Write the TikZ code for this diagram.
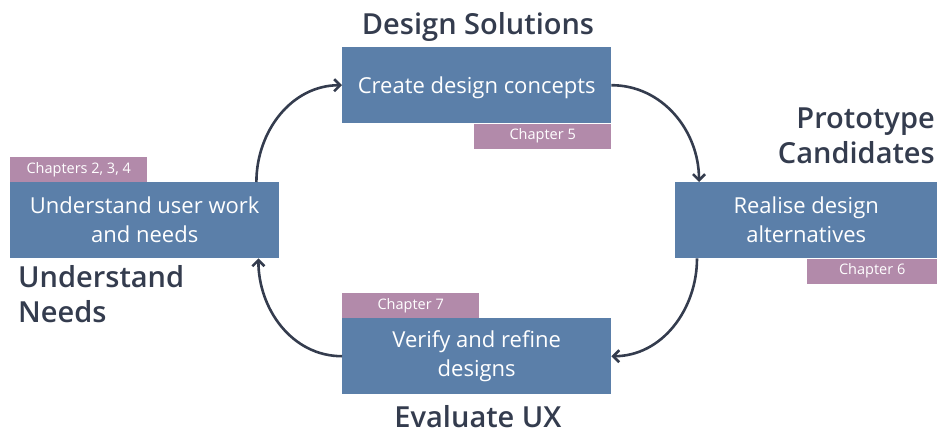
\documentclass[tikz,border=0pt]{standalone}
\usepackage{fontspec}
\setmainfont{Open Sans}[BoldFont={Open Sans Semibold}]
\usetikzlibrary{arrows.meta,positioning}
\definecolor{boxblue}{HTML}{5B7FA9}
\definecolor{tagpink}{HTML}{B28AAA}
\definecolor{inkdark}{HTML}{343C4E}

\begin{document}
\begin{tikzpicture}[x=1pt,y=-1pt,
		stage/.style={fill=boxblue,text=white,minimum width=269pt,minimum height=76pt,
			inner sep=0pt,align=center,font=\fontsize{22}{29}\selectfont},
		chaptertag/.style={fill=tagpink,text=white,minimum width=137pt,minimum height=25pt,
			inner sep=0pt,font=\fontsize{14.5}{16}\selectfont},
		phase/.style={text=inkdark,inner sep=0pt,font=\fontsize{29}{35}\selectfont\bfseries},
		flow/.style={draw=inkdark,line width=2.6pt,-{Straight Barb[length=6pt,width=12pt]}}]
		\useasboundingbox (0,0) rectangle (937,433);
		% stages of the cycle
		\node[stage,anchor=north west,text depth=1pt] (create) at (342,47) {Create design concepts};
		\node[stage,anchor=north west,minimum width=262pt] (realise) at (675,182) {Realise design\\alternatives};
		\node[stage,anchor=north west] (verify) at (342,318) {Verify and refine\\designs};
		\node[stage,anchor=north west] (understand) at (10,182) {Understand user work\\and needs};
		% chapter tags
		\node[chaptertag,anchor=north east] (ch5) at (create.south east) {Chapter 5};
		\node[chaptertag,anchor=north east,minimum width=130pt] (ch6) at (realise.south east) {Chapter 6};
		\node[chaptertag,anchor=south west] (ch7) at (verify.north west) {Chapter 7};
		\node[chaptertag,anchor=south west] (ch234) at (understand.north west) {Chapters 2, 3, 4};
		% phase names
		\node[phase,anchor=base] (solutions) at (478,35) {Design Solutions};
		\node[phase,anchor=north east,align=right] (candidates) at (935,108) {Prototype\\Candidates};
		\node[phase,anchor=north west,align=left] (needs) at (18,265) {Understand\\Needs};
		\node[phase,anchor=base] (evaluate) at (478,427) {Evaluate UX};
		% cycle
		\draw[flow] ([xshift=-23pt]understand.north east) to[out=90,in=180] (create.west);
		\draw[flow] (create.east) to[out=0,in=90] ([xshift=24pt]realise.north west);
		\draw[flow] ([xshift=22pt]realise.south west) to[out=-90,in=0] (verify.east);
		\draw[flow] (verify.west) to[out=180,in=-90] ([xshift=-21pt]understand.south east);
	\end{tikzpicture}
\end{document}
